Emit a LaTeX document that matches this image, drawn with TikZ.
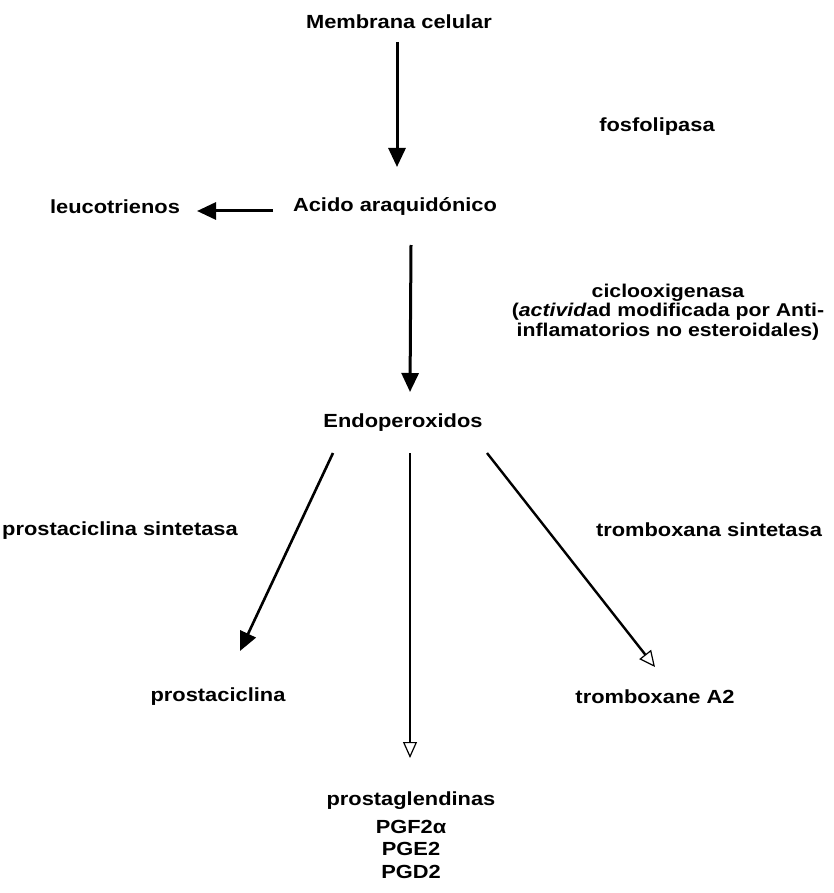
\documentclass[tikz,border=0pt]{standalone}
\usepackage{fontspec}
\newfontfamily\dfont{Liberation Sans}[FakeStretch=1.15]
\usetikzlibrary{arrows.meta,calc}
\tikzset{
  lbl/.style={font=\dfont\bfseries\fontsize{19}{19}\selectfont, inner sep=0pt, align=center},
  sarr/.style={line width=3pt, -{Triangle[length=19pt,width=17pt]}},
  oarr/.style={line width=2.4pt, -{Triangle[open,length=16pt,width=15pt,line width=1.2pt]}},
  tarr/.style={line width=1.5pt, -{Triangle[open,length=16pt,width=14pt,line width=1.2pt]}},
}
\begin{document}
\begin{tikzpicture}[x=1pt,y=-1pt]
\useasboundingbox (0,0) rectangle (834,893);
\node[lbl] (mem) at (399,22) {Membrana celular};
\node[lbl] (fosf) at (657,127) {fosfolipasa};
\node[lbl] (acid) at (395,207) {Acido araquidónico};
\node[lbl] (leuco) at (115,207) {leucotrienos};
\node[lbl, font=\dfont\bfseries\fontsize{18.5}{19.5}\selectfont] (cyc) at (668,312) {ciclooxigenasa\\(\textit{activid}ad modificada por Anti-\\inflamatorios no esteroidales)};
\node[lbl] (endo) at (403,423) {Endoperoxidos};
\node[lbl] (pcs) at (120,531) {prostaciclina sintetasa};
\node[lbl] (txs) at (709,530) {tromboxana sintetasa};
\node[lbl] (pc) at (218,697) {prostaciclina};
\node[lbl] (tx) at (655,697) {tromboxane A2};
\node[lbl, font=\dfont\bfseries\fontsize{19}{22.5}\selectfont, anchor=north] (pg) at (411,792) {prostaglendinas\\[5pt]PGF2α\\PGE2\\PGD2};

\draw[sarr] ($(mem)+(-2,20)$) -- ($(acid)+(2,-40)$);
\draw[sarr] ($(acid)+(-122,4)$) -- ($(leuco)+(82,4)$);
\draw[sarr] ($(acid)+(16,38)$) -- ($(endo)+(7,-31)$);
\draw[sarr, line width=2.6pt] ($(endo)+(-70,30)$) -- ($(pc)+(22,-46)$);
\draw[tarr] ($(endo)+(7,30)$) -- ($(pg.north)+(-1,-34)$);
\draw[oarr] ($(endo)+(84,30)$) -- ($(tx)+(0,-30)$);
\end{tikzpicture}
\end{document}
